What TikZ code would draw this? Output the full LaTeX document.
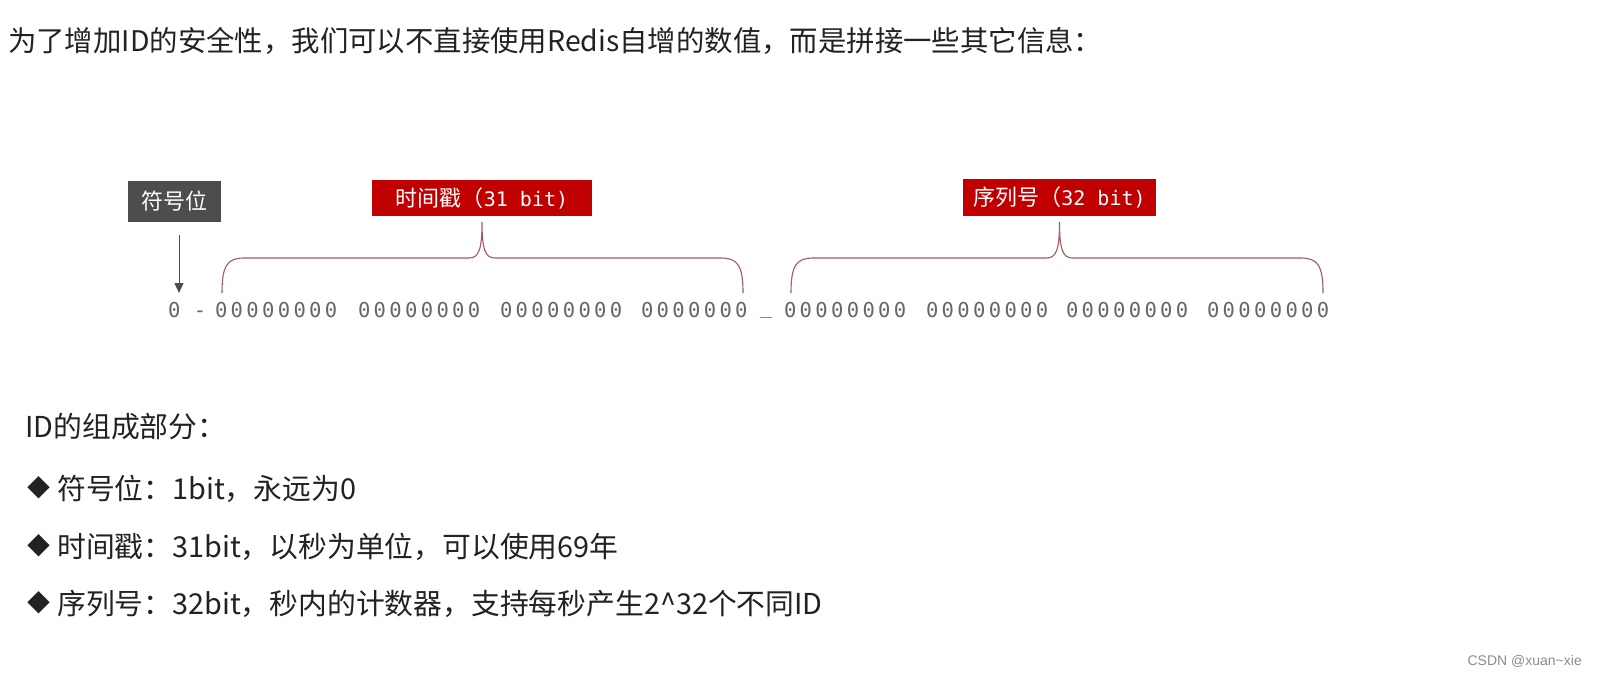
\documentclass[tikz,border=0pt]{standalone}
\usepackage{fontspec}
\newfontfamily\cjk{Noto Sans CJK SC}
\newfontfamily\mono{DejaVu Sans Mono}
\newfontfamily\wmfont{Liberation Sans}
\usetikzlibrary{arrows.meta}
\definecolor{boxred}{HTML}{C00000}
\definecolor{boxgray}{HTML}{4D4D4D}
\definecolor{bracec}{HTML}{A65A5E}
\definecolor{bitc}{HTML}{666666}
\definecolor{txt}{HTML}{222222}
\definecolor{wmc}{HTML}{8C8C8C}
\newcommand\Zc{\makebox[15.7pt]{0}}
\newcommand\Zgrp{\Zc\Zc\Zc\Zc\Zc\Zc\Zc\Zc}
\newcommand\Zsev{\Zc\Zc\Zc\Zc\Zc\Zc\Zc}
\newcommand\bracedraw[3]{%
  \draw[bracepath] (#1,293) .. controls (#1,266) and (#1+5,258) .. (#1+22,258)
    -- (#2-13,258) .. controls (#2-3,258) and (#2,249) .. (#2,222)
    .. controls (#2,249) and (#2+3,258) .. (#2+13,258)
    -- (#3-22,258) .. controls (#3-5,258) and (#3,266) .. (#3,293);}
\begin{document}
\begin{tikzpicture}[x=1pt,y=-1pt,
  txtnode/.style={inner sep=0pt, anchor=base west, text=txt, font=\cjk\fontsize{28.4}{34}\selectfont},
  listnode/.style={txtnode, font=\cjk\fontsize{28.8}{34}\selectfont},
  bullet/.style={inner sep=0pt, text=txt, font=\cjk\fontsize{23}{27}\selectfont},
  bits/.style={inner sep=0pt, anchor=base west, text=bitc, font=\mono\fontsize{20.5}{24}\selectfont},
  labelbox/.style={inner sep=0pt, text=white, font=\cjk\fontsize{22}{26}\selectfont},
  bracepath/.style={draw=bracec, line width=1.1pt},
]
\useasboundingbox[fill=white] (0,0) rectangle (1597,675);

% title
\node[txtnode] (title) at (8,51) {为了增加ID的安全性，我们可以不直接使用Redis自增的数值，而是拼接一些其它信息：};

% label boxes
\node[labelbox, fill=boxgray, minimum width=93pt, minimum height=41pt] (sign) at (174.5,201.5) {符号位};
\node[labelbox, fill=boxred, minimum width=220pt, minimum height=36pt] (ts) at (482,198) {时间戳（{\mono\fontsize{20}{24}\selectfont 31 bit)}};
\node[labelbox, fill=boxred, minimum width=193pt, minimum height=37pt] (seq) at (1059.5,197.5) {序列号（{\mono\fontsize{20}{24}\selectfont 32 bit)}};

% arrow
\coordinate (arrtop) at (179,235);
\coordinate (arrtip) at (179,293);
\draw[draw=boxgray, line width=1pt, -{Triangle[length=10pt,width=9pt]}] (arrtop) -- (arrtip);

% braces
\bracedraw{222}{482}{743}
\bracedraw{791}{1059.5}{1323}

% bits
\node[bits] (b0) at (166.15,317) {\Zc};
\node[bits, anchor=base] (dash1) at (200,317) {-};
\node[bits] (g1) at (213.15,317) {\Zgrp};
\node[bits] (g2) at (356.15,317) {\Zgrp};
\node[bits] (g3) at (498.15,317) {\Zgrp};
\node[bits] (g4) at (639.15,317) {\Zsev};
\node[bits, anchor=base] (dash2) at (766,317) {\raisebox{4pt}{\_}};
\node[bits] (g5) at (782.15,317) {\Zgrp};
\node[bits] (g6) at (924.15,317) {\Zgrp};
\node[bits] (g7) at (1064.15,317) {\Zgrp};
\node[bits] (g8) at (1205.15,317) {\Zgrp};

% list
\node[listnode] (head) at (25,437) {ID的组成部分：};
\node[bullet] (d1) at (39,488) {◆};
\node[listnode] (l1) at (57,499) {符号位：1bit，永远为0};
\node[bullet] (d2) at (39,546) {◆};
\node[listnode] (l2) at (57,557) {时间戳：31bit，以秒为单位，可以使用69年};
\node[bullet] (d3) at (39,603) {◆};
\node[listnode] (l3) at (57,614) {序列号：32bit，秒内的计数器，支持每秒产生2\textasciicircum32个不同ID};

% watermark
\node[inner sep=0pt, anchor=base east, text=wmc, font=\wmfont\fontsize{14}{17}\selectfont] (wm) at (1582,665) {CSDN @xuan\textasciitilde xie};
\end{tikzpicture}
\end{document}
